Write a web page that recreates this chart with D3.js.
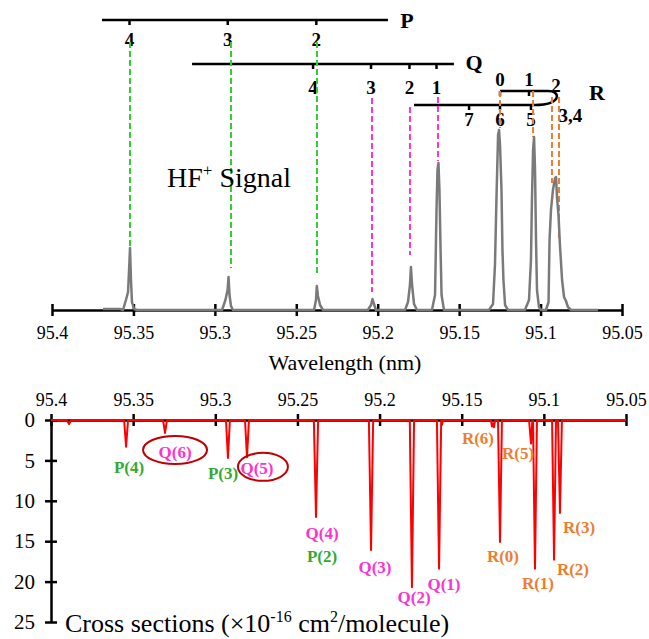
<!DOCTYPE html>
<html>
<head>
<meta charset="utf-8">
<script src="https://cdn.jsdelivr.net/npm/d3@7"></script>
<style>
body { margin: 0; background: #fff; }
svg text { font-family: "Liberation Serif", "DejaVu Serif", serif !important; }
</style>
</head>
<body>
<svg id="chart" width="649" height="639" font-family="Liberation Serif, DejaVu Serif, serif"></svg>
<script>
// axis ticks
var tickWaves = [95.4, 95.35, 95.3, 95.25, 95.2, 95.15, 95.1, 95.05];
var tickLabels = ["95.4", "95.35", "95.3", "95.25", "95.2", "95.15", "95.1", "95.05"];
var crossTicks = [0, 5, 10, 15, 20, 25];

// HF+ signal trace: [wavelength (nm), intensity (arb.)]
var signal = [
  [95.3687, 1], [95.3582, 1], [95.3564, 0], [95.3546, 10], [95.3533, 18], [95.3524, 50], [95.3521, 62], [95.3515, 30], [95.3509, 8], [95.3496, 1], [95.3478, 0],
  [95.2956, 0], [95.2935, 10], [95.2922, 20], [95.2916, 33], [95.2910, 15], [95.2901, 4], [95.2889, 0],
  [95.2391, 0], [95.2379, 10], [95.2374, 24], [95.2367, 14], [95.2354, 5], [95.2336, 0],
  [95.2060, 0], [95.2041, 5], [95.2032, 11], [95.2023, 6], [95.2011, 0],
  [95.1832, 0], [95.1814, 8], [95.1802, 25], [95.1796, 43], [95.1789, 25], [95.1777, 6], [95.1759, 0],
  [95.1667, 0], [95.1648, 15], [95.1639, 100], [95.1633, 140], [95.1627, 147], [95.1621, 120], [95.1614, 60], [95.1608, 15], [95.1593, 0],
  [95.1317, 0], [95.1292, 6], [95.1280, 45], [95.1271, 110], [95.1261, 175], [95.1255, 180], [95.1249, 165], [95.1240, 120], [95.1234, 60], [95.1228, 30], [95.1218, 5], [95.1200, 0],
  [95.1096, 0], [95.1071, 10], [95.1059, 50], [95.1053, 110], [95.1046, 160], [95.1040, 173], [95.1034, 140], [95.1028, 70], [95.1022, 20], [95.1010, 3], [95.0997, 0],
  [95.0967, 0], [95.0951, 8], [95.0945, 70], [95.0936, 100], [95.0924, 120], [95.0911, 132], [95.0905, 133], [95.0899, 112], [95.0890, 95], [95.0881, 65], [95.0868, 30], [95.0856, 13], [95.0844, 9], [95.0832, 3], [95.0813, 0], [95.0647, 0]
];

// cross sections: [wavelength (nm), x1e-16 cm2/molecule]
var crossSection = [
  [95.4, 0],
  [95.3905, 0], [95.3890, 0.5], [95.3875, 0],
  [95.3555, 0], [95.3543, 3.3], [95.3531, 0],
  [95.3318, 0], [95.3306, 1.6], [95.3294, 0],
  [95.2935, 0], [95.2923, 4.7], [95.2911, 0],
  [95.2819, 0], [95.2807, 4.6], [95.2795, 0],
  [95.2400, 0], [95.2387, 12.0], [95.2374, 0],
  [95.2065, 0], [95.2052, 16.1], [95.2039, 0],
  [95.1816, 0], [95.1803, 20.7], [95.1790, 0],
  [95.1651, 0], [95.1638, 18.4], [95.1625, 0], [95.1620, 0.6], [95.1614, 0],
  [95.1322, 0], [95.1316, 0.8], [95.1310, 0.4], [95.1304, 0.9], [95.1296, 0],
  [95.1279, 0], [95.1267, 15.1], [95.1255, 0],
  [95.1090, 0], [95.1084, 1.5], [95.1078, 2.9], [95.1070, 0],
  [95.1066, 0], [95.1054, 18.4], [95.1042, 0],
  [95.0950, 0], [95.0938, 17.3], [95.0926, 0],
  [95.0914, 0], [95.0902, 11.5], [95.0890, 0],
  [95.05, 0]
];

// rotational ladders (wavelength of each J)
var pTicks = [95.3524, 95.2921, 95.2377], pJ = ["4", "3", "2"], pSpan = [95.3693, 95.1937];
var qTicks = [95.2397, 95.2041, 95.1805, 95.1639], qJ = ["4", "3", "2", "1"], qSpan = [95.3140, 95.1532];
var rLowTicks = [95.1439, 95.1249, 95.1059], rLowJ = ["7", "6", "5"], rLowSpan = [95.1777, 95.1034];
var rUpTicks = [95.1249, 95.1071, 95.0905], rUpJ = ["0", "1", "2"], rUpSpan = [95.1249, 95.0954];
var rJoin = 95.0899, rLabel34 = 95.0817;

// assignment lines: wavelength and peak height they reach
var pAssign = [95.3521, 95.2901, 95.2373], pAssignTop = [64, 42, 34];
var qAssign = [95.2035, 95.1802, 95.1630], qAssignTop = [18, 55, 149];
var rAssign = [95.1249, 95.1046, 95.0930, 95.0887], rAssignTop = [182, 173, 127, 70];

// line labels on the cross section panel: [text, wavelength, value, branch]
var crossLabels = [
  ["P(4)", 95.3525, 5.8, "P"], ["Q(6)", 95.3245, 4.0, "Q"], ["P(3)", 95.2953, 6.6, "P"], ["Q(5)", 95.2746, 5.9, "Q"],
  ["Q(4)", 95.2350, 14.0, "Q"], ["P(2)", 95.2350, 16.8, "P"], ["Q(3)", 95.2028, 18.2, "Q"], ["Q(2)", 95.1790, 21.9, "Q"],
  ["Q(1)", 95.1608, 20.3, "Q"], ["R(6)", 95.1401, 2.2, "R"], ["R(5)", 95.1157, 4.1, "R"], ["R(0)", 95.1249, 16.8, "R"],
  ["R(1)", 95.1036, 20.2, "R"], ["R(2)", 95.0823, 18.4, "R"], ["R(3)", 95.0786, 13.2, "R"]
];
var circled = [[95.3245, 3.7], [95.2710, 5.8]];

var branchColor = { P: "#33aa33", Q: "#ff33cc", R: "#ed7d31" };
var dashColor = { P: "#33cc33", Q: "#ff33cc", R: "#ed7d31" };

var serif = "Liberation Serif, DejaVu Serif, serif";

var svg = d3.select("#chart");
svg.append("rect").attr("width", 649).attr("height", 639).attr("fill", "#fff");

var xTop = d3.scaleLinear().domain([95.4, 95.05]).range([52, 622]);
var yTop = d3.scaleLinear().domain([0, 200]).range([310, 110]);
var xBot = d3.scaleLinear().domain([95.4, 95.05]).range([51, 626]);
var yBot = d3.scaleLinear().domain([0, 25]).range([420, 622]);

// ---- ladders ----
var lad = svg.append("g").attr("stroke", "#000").attr("stroke-width", 2.5).attr("fill", "none");
lad.append("line").attr("x1", xTop(pSpan[0])).attr("x2", xTop(pSpan[1])).attr("y1", 20).attr("y2", 20);
lad.append("line").attr("x1", xTop(qSpan[0])).attr("x2", xTop(qSpan[1])).attr("y1", 64).attr("y2", 64);
lad.append("path").attr("d", "M" + xTop(rLowSpan[0]) + ",105H" + xTop(rLowSpan[1]) + "Q" + (xTop(rJoin) - 3) + ",105 " + xTop(rJoin) + ",97");
lad.append("path").attr("d", "M" + xTop(rUpSpan[0]) + ",91H" + xTop(rUpSpan[1]) + "Q" + xTop(rJoin) + ",91 " + xTop(rJoin) + ",97");

function ladTicks(ticks, y) {
  ticks.forEach(function(w) {
    lad.append("line").attr("x1", xTop(w)).attr("x2", xTop(w)).attr("y1", y).attr("y2", y + 5);
  });
}
ladTicks(pTicks, 20);
ladTicks(qTicks, 64);
ladTicks(rLowTicks, 105);
ladTicks(rUpTicks.slice(0, 2), 91);

var labG = svg.append("g").attr("font-family", serif).attr("font-weight", "bold").attr("text-anchor", "middle").attr("fill", "#000");
function ladLabels(ticks, names, y) {
  ticks.forEach(function(w, i) {
    labG.append("text").attr("x", xTop(w)).attr("y", y).attr("font-size", 19).text(names[i]);
  });
}
ladLabels(pTicks, pJ, 46);
ladLabels(qTicks, qJ, 94);
ladLabels(rLowTicks, rLowJ, 126);
ladLabels(rUpTicks.slice(0, 2), rUpJ.slice(0, 2), 86);
labG.append("text").attr("x", xTop(rUpTicks[2])).attr("y", 92).attr("font-size", 19).text(rUpJ[2]);
labG.append("text").attr("x", xTop(rLabel34)).attr("y", 122).attr("font-size", 19).text("3,4");
labG.append("text").attr("x", 407).attr("y", 28).attr("font-size", 22).text("P");
labG.append("text").attr("x", 474).attr("y", 70).attr("font-size", 22).text("Q");
labG.append("text").attr("x", 597).attr("y", 100).attr("font-size", 22).text("R");

// ---- dashed assignment lines ----
function assign(waves, tops, starts, color) {
  waves.forEach(function(w, i) {
    svg.append("line").attr("x1", xTop(w)).attr("x2", xTop(w))
      .attr("y1", starts[i]).attr("y2", yTop(tops[i]))
      .attr("stroke", color).attr("stroke-width", 2).attr("stroke-dasharray", "6,3");
  });
}
assign(pAssign, pAssignTop, [42, 42, 42], dashColor.P);
assign(qAssign, qAssignTop, [98, 107, 97], dashColor.Q);
assign(rAssign, rAssignTop, [91, 91, 97, 97], dashColor.R);

// ---- top axis ----
var gTop = svg.append("g").attr("transform", "translate(0,310)")
  .call(d3.axisBottom(xTop).tickValues(tickWaves).tickFormat(function(d, i) { return tickLabels[i]; }).tickSize(6).tickSizeOuter(0));
gTop.attr("font-size", 18).attr("font-family", serif);
gTop.select(".domain").attr("stroke", "#000").attr("stroke-width", 2.5);
gTop.selectAll(".tick line").attr("y1", -6).attr("y2", 6).attr("stroke", "#000").attr("stroke-width", 2.5);
gTop.selectAll(".tick text").attr("y", 29).attr("dy", 0).attr("fill", "#000");

svg.append("path").datum(signal)
  .attr("fill", "none").attr("stroke", "#7a7a7a").attr("stroke-width", 2.5).attr("stroke-linejoin", "round")
  .attr("d", d3.line().x(function(d) { return xTop(d[0]); }).y(function(d) { return yTop(d[1]); }));

svg.append("text").attr("x", 345).attr("y", 370).attr("text-anchor", "middle").attr("font-family", serif).attr("font-size", 22).text("Wavelength (nm)");

var hf = svg.append("text").attr("x", 167).attr("y", 187).attr("font-family", serif).attr("font-size", 28);
hf.append("tspan").text("HF");
hf.append("tspan").attr("font-size", 17).attr("dy", -11).text("+");
hf.append("tspan").attr("dy", 11).text(" Signal");

// ---- cross section panel ----
var gBot = svg.append("g").attr("transform", "translate(0,420)")
  .call(d3.axisTop(xBot).tickValues(tickWaves).tickFormat(function(d, i) { return tickLabels[i]; }).tickSize(6).tickSizeOuter(0));
gBot.attr("font-size", 18).attr("font-family", serif);
gBot.select(".domain").attr("stroke", "#000").attr("stroke-width", 2.5);
gBot.selectAll(".tick line").attr("y1", 6).attr("y2", -6).attr("stroke", "#000").attr("stroke-width", 2.5);
gBot.selectAll(".tick text").attr("y", -14).attr("dy", 0).attr("fill", "#000");

var gY = svg.append("g").attr("transform", "translate(51,0)")
  .call(d3.axisLeft(yBot).tickValues(crossTicks).tickSize(6).tickSizeOuter(0));
gY.attr("font-size", 21).attr("font-family", serif);
gY.select(".domain").attr("stroke", "#000").attr("stroke-width", 2.5);
gY.selectAll(".tick line").attr("x1", 6).attr("x2", -6).attr("stroke", "#000").attr("stroke-width", 2.5);
gY.selectAll(".tick text").attr("x", -16).attr("dy", "0.32em").attr("fill", "#000");

svg.append("path").datum(crossSection)
  .attr("fill", "none").attr("stroke", "#ff0000").attr("stroke-width", 2).attr("stroke-linejoin", "round")
  .attr("d", d3.line().x(function(d) { return xBot(d[0]); }).y(function(d) { return yBot(d[1]); }));

var rxs = [32, 25];
circled.forEach(function(c, i) {
  svg.append("ellipse").attr("cx", xBot(c[0])).attr("cy", yBot(c[1]))
    .attr("rx", rxs[i]).attr("ry", 14).attr("fill", "none").attr("stroke", "#c00000").attr("stroke-width", 2);
});

svg.append("g").attr("font-family", serif).attr("font-weight", "bold").attr("font-size", 17).attr("text-anchor", "middle")
  .selectAll("text").data(crossLabels).join("text")
  .attr("x", function(d) { return xBot(d[1]); })
  .attr("y", function(d) { return yBot(d[2]); })
  .attr("dy", "0.35em")
  .attr("fill", function(d) { return branchColor[d[3]]; })
  .text(function(d) { return d[0]; });

var cs = svg.append("text").attr("x", 65).attr("y", 632).attr("font-family", serif).attr("font-size", 26);
cs.append("tspan").text("Cross sections (\u00d710");
cs.append("tspan").attr("font-size", 16).attr("dy", -10).text("-16");
cs.append("tspan").attr("dy", 10).text(" cm");
cs.append("tspan").attr("font-size", 16).attr("dy", -10).text("2");
cs.append("tspan").attr("dy", 10).text("/molecule)");
</script>
</body>
</html>
